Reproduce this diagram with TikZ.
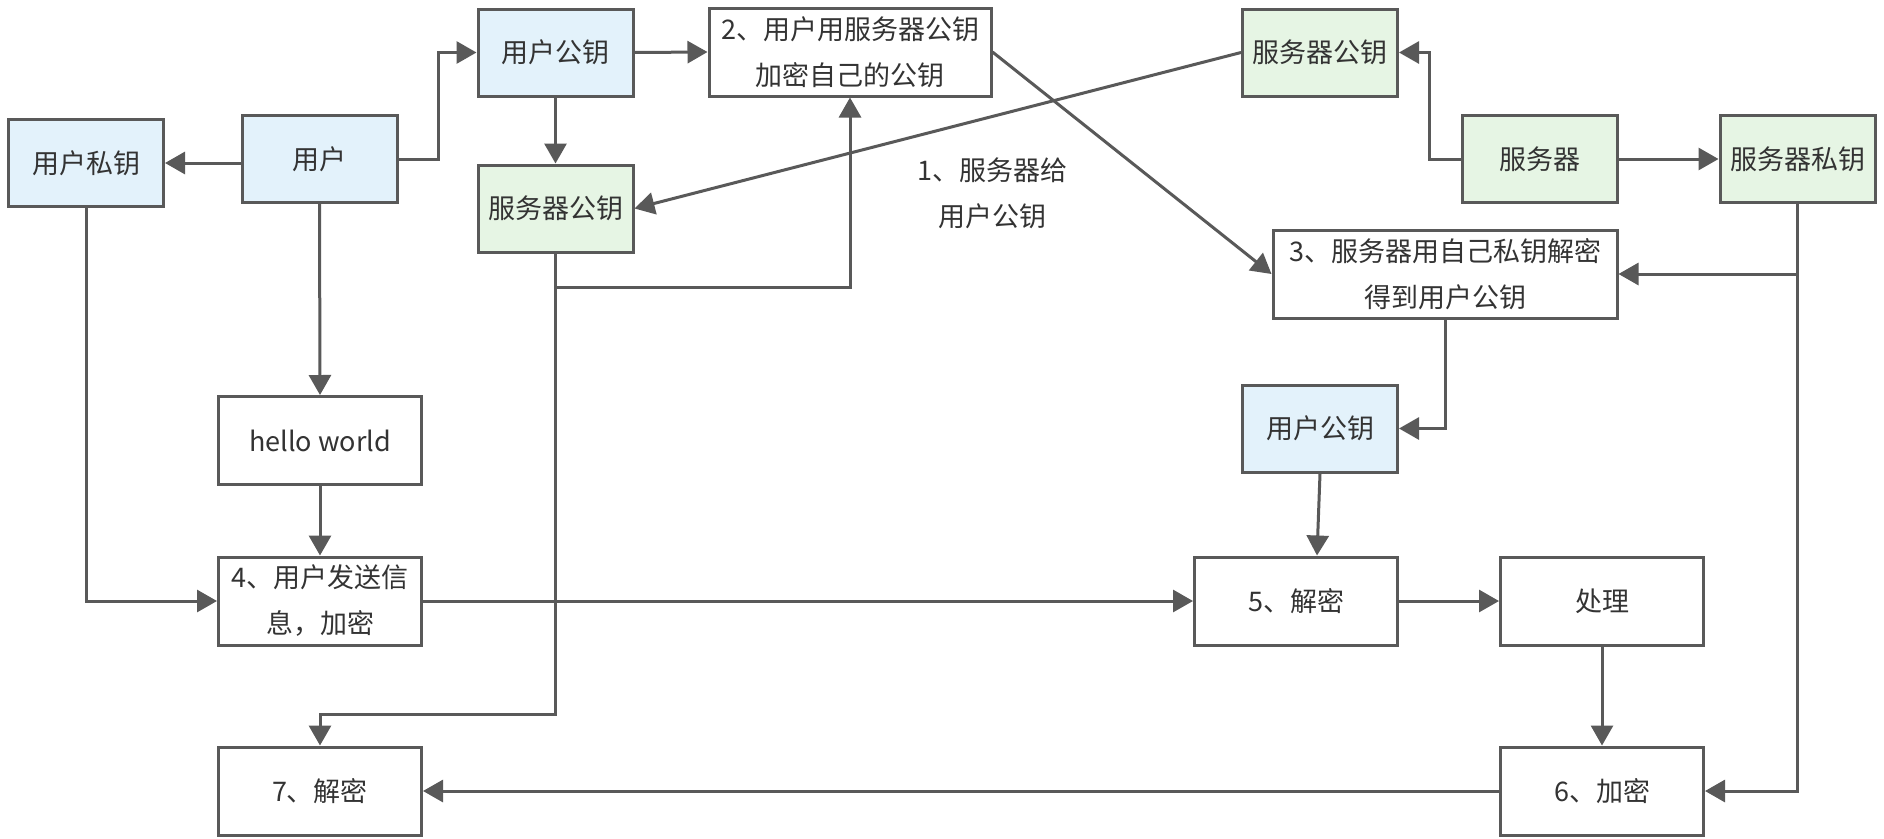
\documentclass[tikz,border=0pt]{standalone}
\usepackage{fontspec}
\setmainfont{Noto Sans CJK SC}
\usetikzlibrary{arrows.meta,calc}
\definecolor{lc}{HTML}{595959}
\definecolor{bluef}{HTML}{E3F2FB}
\definecolor{greenf}{HTML}{E6F5E4}
\definecolor{tc}{HTML}{333333}
\begin{document}
\begin{tikzpicture}[x=1pt,y=-1pt,
  box/.style={draw=lc, line width=3pt, minimum width=155pt, minimum height=87pt, inner sep=0pt, align=center, font=\fontsize{27}{46}\selectfont, text=tc},
  bluebox/.style={box, fill=bluef},
  greenbox/.style={box, fill=greenf},
  wide/.style={box, fill=white, minimum width=203pt, minimum height=88pt},
  arr/.style={draw=lc, line width=3pt, -{Triangle[length=20pt,width=22pt]}},
  lbl/.style={font=\fontsize{27}{46}\selectfont, text=tc, align=center, inner sep=0pt}
]
\useasboundingbox[fill=white] (0,0) rectangle (1884,838);

\node[bluebox] (upriv) at (86,163) {用户私钥};
\node[bluebox] (user) at (319.5,159) {用户};
\node[bluebox] (upubA) at (555.5,52.5) {用户公钥};
\node[greenbox] (spubA) at (555.5,208.5) {服务器公钥};
\node[box, fill=white, minimum width=282pt, minimum height=88pt] (step2) at (850,52) {2、用户用服务器公钥\\加密自己的公钥};
\node[greenbox] (spubB) at (1320,52.5) {服务器公钥};
\node[greenbox] (server) at (1539.5,159) {服务器};
\node[greenbox] (spriv) at (1797.5,159) {服务器私钥};
\node[box, fill=white, minimum width=344pt, minimum height=88pt] (step3) at (1445,274) {3、服务器用自己私钥解密\\得到用户公钥};
\node[bluebox] (upubB) at (1320,428.5) {用户公钥};
\node[wide] (hello) at (320,440.5) {hello world};
\node[wide] (step4) at (320,601) {4、用户发送信\\息，加密};
\node[wide] (step5) at (1296,601) {5、解密};
\node[wide] (proc) at (1602,601) {处理};
\node[wide] (step7) at (320,791) {7、解密};
\node[wide] (step6) at (1602,791) {6、加密};
\node[lbl] (lab1) at (992,193) {1、服务器给\\用户公钥};

\draw[arr] (user.west |- upriv) -- (upriv.east);
\draw[arr] (user.east) -- ++(40,0) |- (upubA.west);
\draw[arr] (upubA.south) -- (spubA.north);
\draw[arr] (upubA.east) -- (step2.west);
\draw[arr] (spubB.west) -- (spubA.east);
\draw[arr] (server.west) -- ++(-31,0) |- (spubB.east);
\draw[arr] (server.east) -- (spriv.west);
\draw[arr] (step2.east) -- (step3.west);
\draw[arr] (spubA.south) -- ++(0,34) -| (step2.south);
\draw[arr] (spubA.south) -- ++(0,461) -| (step7.north);
\draw[arr] (spriv.south) |- (step3.east);
\draw[arr] (spriv.south) |- (step6.east);
\draw[arr] (step3.south) |- (upubB.east);
\draw[arr] (upubB.south) -- ($(step5.north)+(21,0)$);
\draw[arr] (user.south) -- (hello.north);
\draw[arr] (hello.south) -- (step4.north);
\draw[arr] (upriv.south) |- (step4.west);
\draw[arr] (step4.east) -- (step5.west);
\draw[arr] (step5.east) -- (proc.west);
\draw[arr] (proc.south) -- (step6.north);
\draw[arr] (step6.west) -- (step7.east);
\end{tikzpicture}
\end{document}
